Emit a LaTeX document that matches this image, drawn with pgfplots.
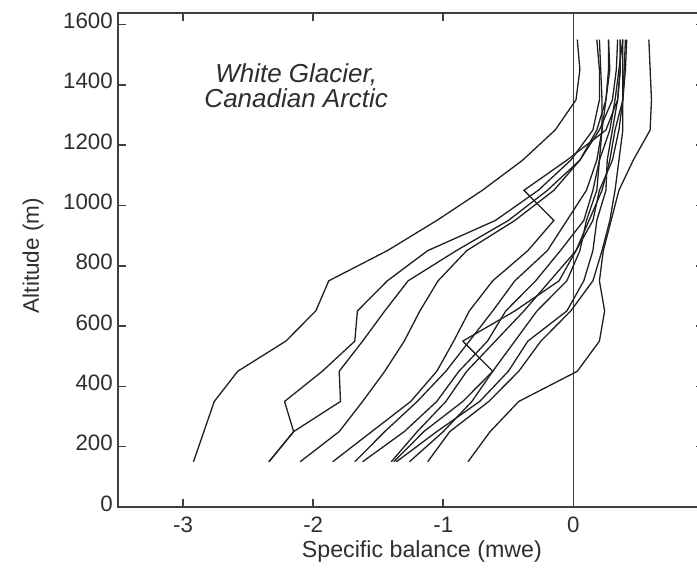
\documentclass[border=0pt]{standalone}
\usepackage{pgfplots}
\usepackage{pgfplotstable}
\pgfplotsset{compat=1.18}
\usepackage{fontspec}
\setmainfont{Liberation Sans}

\definecolor{ink}{gray}{0.12}
\definecolor{frame}{gray}{0.25}

% Specific balance (mwe) against altitude (m), one column per balance year
\pgfplotstableread{
alt   L1    L2    L3    L4    L5    L6    L7    L8    L9    L10   L11   L12   R1
150  -2.92 -2.34 -2.34 -2.10 -1.85 -1.68 -1.62 -1.40 -1.38 -1.36 -1.26 -1.12 -0.81
250  -2.84 -2.15 -2.15 -1.80 -1.55 -1.45 -1.30 -1.20 -1.15 -1.05 -1.00 -0.95 -0.64
350  -2.76 -2.22 -1.79 -1.62 -1.25 -1.20 -1.05 -0.98 -0.85 -0.72 -0.78 -0.65 -0.42
450  -2.58 -1.93 -1.80 -1.45 -1.05 -0.98 -0.88 -0.82 -0.62 -0.50 -0.62 -0.42  0.03
550  -2.21 -1.68 -1.62 -1.30 -0.92 -0.80 -0.66 -0.60 -0.85 -0.35 -0.45 -0.25  0.20
650  -1.98 -1.66 -1.45 -1.18 -0.80 -0.62 -0.52 -0.38 -0.45 -0.05 -0.28 -0.02  0.24
750  -1.88 -1.43 -1.27 -1.04 -0.62 -0.45 -0.29 -0.18 -0.11  0.08 -0.05  0.15  0.20
850  -1.43 -1.12 -0.90 -0.82 -0.35 -0.20 -0.10  0.02  0.02  0.15  0.05  0.22  0.23
950  -1.05 -0.60 -0.50 -0.45 -0.15 -0.05  0.08  0.12  0.15  0.18  0.10  0.28  0.29
1050 -0.70 -0.27 -0.20 -0.15 -0.38  0.10  0.15  0.22  0.20  0.25  0.18  0.32  0.35
1150 -0.39 -0.02  0.05  0.05 -0.05  0.18  0.20  0.28  0.30  0.26  0.20  0.35  0.46
1250 -0.14  0.15  0.18  0.20  0.25  0.22  0.28  0.32  0.35  0.30  0.22  0.38  0.59
1350  0.02  0.20  0.25  0.30  0.34  0.25  0.32  0.38  0.38  0.34  0.22  0.38  0.60
1450  0.05  0.20  0.28  0.33  0.36  0.27  0.35  0.40  0.39  0.36  0.21  0.38  0.59
1550  0.03  0.18  0.27  0.34  0.36  0.27  0.38  0.41  0.40  0.36  0.20  0.38  0.58
}\profiles

\begin{document}
\begin{tikzpicture}
\begin{axis}[
  scale only axis,
  width=585.5pt, height=494pt,
  xmin=-3.5, xmax=1.0,
  ymin=0, ymax=1638,
  axis line style={frame, line width=2pt},
  tick style={frame, line width=1.6pt},
  tick align=inside,
  major tick length=8pt,
  xtick pos=both, ytick pos=both,
  xtick={-3,-2,-1,0},
  xticklabels={-3,-2,-1,0},
  ytick={0,200,400,600,800,1000,1200,1400,1600},
  yticklabels={0,200,400,600,800,1000,1200,1400,1600},
  tick label style={font=\fontsize{22.3}{25}\selectfont, text=black!82},
  xticklabel style={anchor=north, inner sep=0pt, yshift=-10pt},
  yticklabel style={anchor=east, inner sep=0pt, xshift=-5pt, yshift=3.5pt},
  xlabel={Specific balance (mwe)},
  ylabel={Altitude (m)},
  label style={text=black!82, inner sep=0pt},
  xlabel style={font=\fontsize{23.2}{26}\selectfont,
                at={(rel axis cs:0.519,0)}, anchor=center, yshift=-44.5pt},
  ylabel style={font=\fontsize{22.5}{25}\selectfont,
                at={(rel axis cs:-0.1452,0.509)}, anchor=center},
  clip=false,
]
  \coordinate (sw) at (rel axis cs:0,0);
  \coordinate (ne) at (rel axis cs:1,1);

  % zero-balance line
  \addplot[frame, line width=1.2pt] coordinates {(0,0) (0,1638)};

  \pgfplotsinvokeforeach{L1,L2,L3,L4,L5,L6,L7,L8,L9,L10,L11,L12,R1}{
    \addplot[ink, line width=1.3pt, sharp plot, mark=none, line join=miter]
      table[x=#1, y=alt] {\profiles};
  }

  \node[anchor=base, inner sep=0pt, text=black!82,
        font=\itshape\fontsize{26}{28}\selectfont]
        at (axis cs:-2.13,1409) {White Glacier,};
  \node[anchor=base, inner sep=0pt, text=black!82,
        font=\itshape\fontsize{26}{28}\selectfont]
        at (axis cs:-2.13,1326) {Canadian Arctic};
\end{axis}
\pgfresetboundingbox
\useasboundingbox ([shift={(-118pt,-60pt)}]sw) rectangle ([shift={(-6.5pt,13pt)}]ne);
\end{tikzpicture}
\end{document}
